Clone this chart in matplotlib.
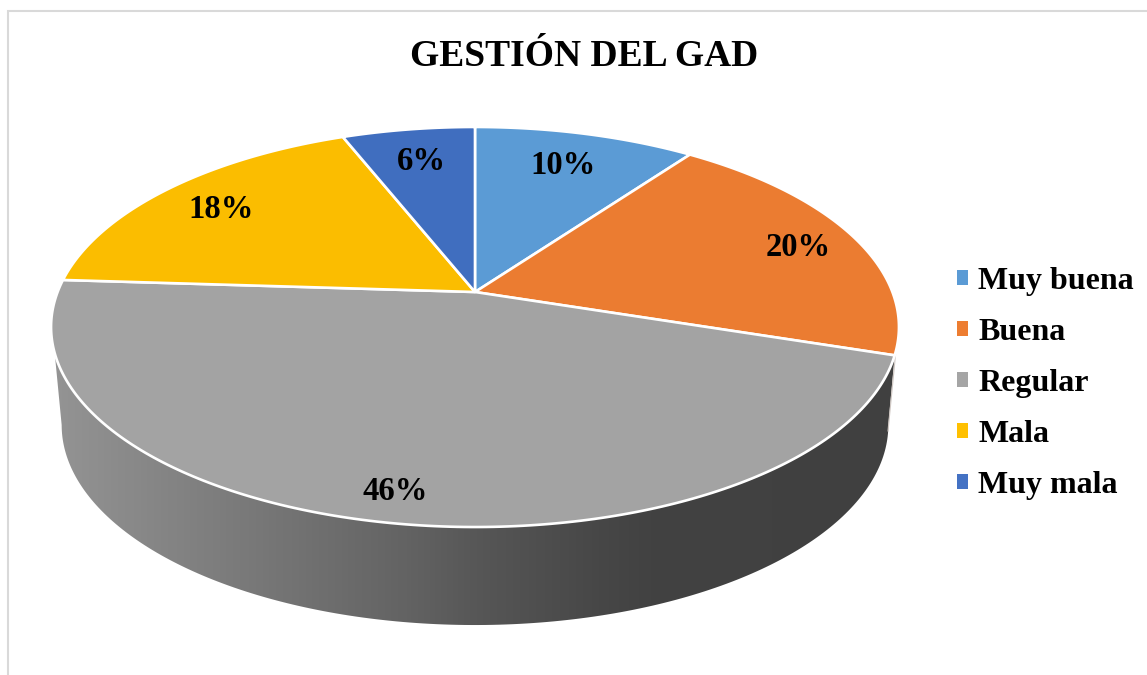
import numpy as np
import matplotlib
matplotlib.use('Agg')
import matplotlib.pyplot as plt
from matplotlib.colors import LinearSegmentedColormap
from matplotlib.patches import Patch, Polygon

# Datos
categorias = ['Muy buena', 'Buena', 'Regular', 'Mala', 'Muy mala']
valores = [10, 20, 46, 18, 6]
colores_sector = ['#5B9BD5', '#EB7C31', '#A3A3A3', '#FBBD00', '#406EBF']
colores_leyenda = ['#5B9BD5', '#ED7D31', '#A5A5A5', '#FFC000', '#4472C4']
titulo = 'GESTIÓN DEL GAD'

# Geometria del pastel en perspectiva (pixeles de la imagen)
cx, cy = 475, 292
A, B, k = 417.4, 193.9, 0.175
grosor = 98
escala_base = 0.975


def rim(grados, dy=0, sx=1.0):
    # grados: horario desde arriba
    t = np.radians(grados)
    u, v = np.sin(t), np.cos(t)
    w = 1 + k * v
    return cx + sx * A * u / w, cy + dy - B * v / w


plt.rcParams['font.family'] = ['Liberation Serif', 'DejaVu Serif']
plt.rcParams['font.weight'] = 'bold'

fig = plt.figure(figsize=(11.47, 6.75), dpi=100)
ax = fig.add_axes([0, 0, 1, 1])

# Marco
ax.plot([8, 8, 1147], [675, 11, 11], color='#D9D9D9', lw=1.5, solid_joinstyle='miter')

# Cortes en grados
cortes = np.cumsum([0] + valores) * 3.6
ini_reg, fin_reg = cortes[2], cortes[3]

# Lateral con degradado (solo se ve el sector Regular)
ang_extremo = np.degrees(np.arctan2(np.sqrt(1 - k**2), -k))  # extremo derecho del borde
arriba = rim(np.linspace(ini_reg, 252.6, 200))
abajo = rim(np.linspace(360 - ang_extremo, ang_extremo, 200), dy=grosor, sx=escala_base)
xs = np.concatenate([arriba[0], abajo[0]])
ys = np.concatenate([arriba[1], abajo[1]])
lateral = Polygon(np.column_stack([xs, ys]), closed=True, fc='none', ec='none', transform=ax.transData)
ax.add_patch(lateral)
cmap = LinearSegmentedColormap.from_list('lado', [
    (0.0, '#949494'), (0.12, '#868686'), (0.3, '#717171'), (0.42, '#636363'),
    (0.51, '#565656'), (0.65, '#474747'), (0.71, '#424242'), (1.0, '#404040')])
img = ax.imshow(np.linspace(0, 1, 512).reshape(1, -1), cmap=cmap, aspect='auto',
                extent=[52, 895, 640, 320], zorder=2)
img.set_clip_path(lateral)

# Filo del lateral naranja a la derecha
ax.plot([895.5, 888], [355, 431], color='#CFC7C2', lw=0.8, zorder=2)

# Sectores
for i, valor in enumerate(valores):
    ang = np.linspace(cortes[i], cortes[i + 1], 200)
    x, y = rim(ang)
    ax.fill(np.r_[cx, x], np.r_[cy, y], facecolor=colores_sector[i], edgecolor='white',
            linewidth=1.9, joinstyle='round', zorder=3)

# Etiquetas de porcentaje
pos_etiquetas = [(563, 165), (798, 248), (395, 492), (221, 210), (421, 162)]
for valor, (x, y) in zip(valores, pos_etiquetas):
    ax.text(x, y, f'{valor}%', ha='center', va='center', fontsize=23.5, color='black', zorder=4)

ax.text(584, 56, titulo, ha='center', va='center', fontsize=27, color='black')

# Leyenda
marcas = [Patch(facecolor=c, edgecolor='none') for c in colores_leyenda]
ax.legend(marcas, categorias, loc='upper left', bbox_to_anchor=(957, 267),
          bbox_transform=ax.transData, frameon=False, fontsize=23, handlelength=0.35,
          handleheight=0.35, handletextpad=0.32, labelspacing=0.69, borderpad=0,
          borderaxespad=0, labelcolor='black')

ax.set_xlim(0, 1147)
ax.set_ylim(675, 0)
ax.axis('off')

plt.savefig('out.png', dpi=100)
